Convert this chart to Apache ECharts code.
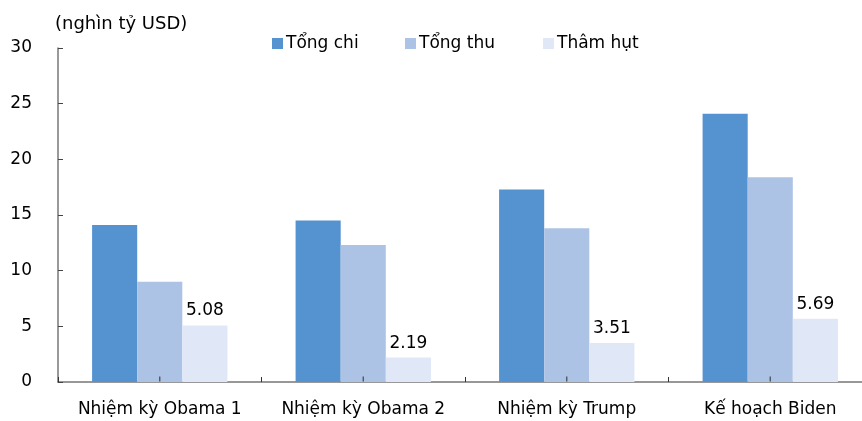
<!DOCTYPE html>
<html>
<head>
<meta charset="utf-8">
<script src="https://cdn.jsdelivr.net/npm/echarts@6/dist/echarts.min.js"></script>
<style>html,body{margin:0;padding:0;background:#fff;overflow:hidden}#c{width:880px;height:421px}</style>
</head>
<body>
<div id="c"></div>
<script>
const categories = ['Nhiệm kỳ Obama 1', 'Nhiệm kỳ Obama 2', 'Nhiệm kỳ Trump', 'Kế hoạch Biden'];
const tongChi = [14.1, 14.5, 17.3, 24.1];
const tongThu = [9.0, 12.3, 13.8, 18.4];
const thamHut = [5.08, 2.19, 3.51, 5.69];
const seriesNames = ['Tổng chi', 'Tổng thu', 'Thâm hụt'];
const yTicks = [0, 5, 10, 15, 20, 25, 30];

const FONT = 'DejaVu Sans';
const legendLefts = [267, 400, 538];
const legendBase = {
  top: 30, itemWidth: 11, itemHeight: 11, icon: 'rect',
  textStyle: {fontFamily: FONT, fontSize: 17, color: '#000', padding: [0,0,0,-2]}
};
const chart = echarts.init(document.getElementById('c'), null, {renderer: 'canvas'});
chart.setOption({
  animation: false,
  textStyle: {fontFamily: FONT, color: '#000'},
  grid: {left: 58, top: 48, width: 814, bottom: 39, containLabel: false},
  legend: seriesNames.map((n, i) => Object.assign({}, legendBase, {data: [n], left: legendLefts[i]})),
  graphic: [{
    type: 'text', left: 55, top: 15,
    style: {text: '(nghìn tỷ USD)', font: '18px "DejaVu Sans"', fill: '#000'}
  }],
  xAxis: {
    type: 'category', data: categories,
    axisLine: {lineStyle: {color: '#777', width: 1.5}},
    axisTick: {show: true, inside: true, length: 5, interval: 0, lineStyle: {color: '#333'}},
    axisLabel: {fontFamily: FONT, fontSize: 17, color: '#000', margin: 19, interval: 0}
  },
  yAxis: {
    type: 'value', min: yTicks[0], max: yTicks[yTicks.length-1], interval: 5,
    axisLine: {show: true, lineStyle: {color: '#777', width: 1.5}},
    axisTick: {show: true, inside: true, length: 5, lineStyle: {color: '#444'}},
    splitLine: {show: false},
    axisLabel: {fontFamily: FONT, fontSize: 17, color: '#000', margin: 26}
  },
  series: [
    {name: seriesNames[0], type: 'bar', data: tongChi, itemStyle: {color: '#5592d0'}, barGap: '0%', barCategoryGap: '33.5%'},
    {name: seriesNames[1], type: 'bar', data: tongThu, itemStyle: {color: '#adc3e5'}},
    {name: seriesNames[2], type: 'bar', data: thamHut, itemStyle: {color: '#e0e7f6'},
     label: {show: true, position: 'top', distance: 6, fontFamily: FONT, fontSize: 17, color: '#000',
             formatter: p => p.value.toFixed(2)}},
    {name: 'tick', type: 'scatter', data: categories.map(() => 0), symbol: 'rect',
     symbolSize: [1.3, 5], symbolOffset: [0, -3], itemStyle: {color: '#333'}, z: 10, silent: true,
     tooltip: {show: false}}
  ]
});
</script>
</body>
</html>
